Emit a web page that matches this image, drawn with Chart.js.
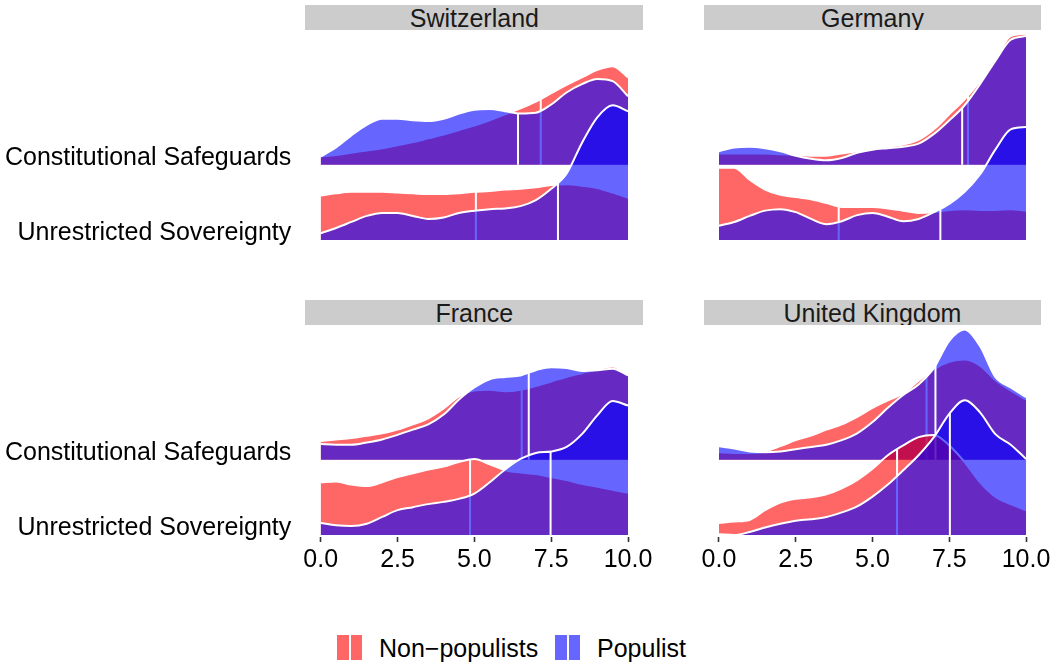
<!DOCTYPE html>
<html>
<head>
<meta charset="utf-8">
<script src="https://cdn.jsdelivr.net/npm/chart.js@4.4.1/dist/chart.umd.min.js"></script>
<style>
  body { margin: 0; background: #fff; font-family: 'Liberation Sans', Arial, sans-serif; }
  #wrap { position: relative; width: 1059px; height: 665px; overflow: hidden; }
  #wrap canvas { position: absolute; }
  .strip { position: absolute; height: 25px; line-height: 25px; padding-top: 1px; box-sizing: border-box;
           background: #cccccc; color: #1a1a1a; font-size: 25px; text-align: center; overflow: hidden; white-space: nowrap; }
  .key { position: absolute; top: 635px; width: 25px; height: 25px; }
  .key span { position: absolute; left: 11.5px; top: 0; width: 2px; height: 25px; background: #fff; }
  .keytext { position: absolute; top: 633px; font-size: 25px; line-height: 30px; color: #000; white-space: nowrap; }
</style>
</head>
<body>
<div id="wrap"></div>
<script>
const countries = ['Switzerland', 'Germany', 'France', 'United Kingdom'];
const ridgeLabels = ['Unrestricted Sovereignty', 'Constitutional Safeguards']; // ridge baselines y = 1 and y = 2
const groups = ['Non\u2212populists', 'Populist'];
const groupFill = ['rgba(255,0,0,0.6)', 'rgba(0,0,255,0.6)'];

const xGrid = [0, 0.5, 1, 1.5, 2, 2.5, 3, 3.5, 4, 4.5, 5, 5.5, 6, 6.5, 7, 7.5, 8, 8.5, 9, 9.5, 10];
const xTicks = [0, 2.5, 5, 7.5, 10];
const xTickLabels = ['0.0', '2.5', '5.0', '7.5', '10.0'];

// scaled density heights above the ridge baseline (1 = gap between ridges), read at xGrid
// Switzerland
const chCsNon = [0.11, 0.13, 0.16, 0.19, 0.22, 0.26, 0.30, 0.35, 0.40, 0.46, 0.52, 0.59, 0.67, 0.75, 0.84, 0.95, 1.06, 1.16, 1.26, 1.31, 1.16];
const chCsPop = [0.11, 0.23, 0.39, 0.53, 0.61, 0.61, 0.59, 0.58, 0.61, 0.68, 0.73, 0.74, 0.71, 0.68, 0.69, 0.80, 0.96, 1.07, 1.14, 1.11, 0.91];
const chUsNon = [0.59, 0.62, 0.64, 0.64, 0.64, 0.63, 0.62, 0.61, 0.61, 0.62, 0.64, 0.65, 0.67, 0.68, 0.70, 0.73, 0.74, 0.72, 0.69, 0.63, 0.56];
const chUsPop = [0.09, 0.16, 0.24, 0.32, 0.36, 0.36, 0.32, 0.28, 0.30, 0.36, 0.39, 0.41, 0.42, 0.45, 0.53, 0.68, 0.88, 1.29, 1.63, 1.79, 1.71];
const chMedCs = [7.16, 6.42];
const chMedUs = [5.05, 7.72];

// Germany
const deCsNon = [0.15, 0.15, 0.15, 0.15, 0.14, 0.13, 0.12, 0.12, 0.15, 0.18, 0.21, 0.24, 0.27, 0.33, 0.47, 0.67, 0.87, 1.11, 1.40, 1.71, 1.74];
const deCsPop = [0.18, 0.23, 0.24, 0.22, 0.18, 0.12, 0.08, 0.06, 0.09, 0.16, 0.20, 0.22, 0.24, 0.28, 0.41, 0.59, 0.79, 1.07, 1.38, 1.66, 1.71];
const deUsNon = [0.96, 0.96, 0.80, 0.67, 0.60, 0.57, 0.54, 0.49, 0.44, 0.44, 0.44, 0.42, 0.39, 0.36, 0.37, 0.40, 0.41, 0.40, 0.40, 0.41, 0.39];
const deUsPop = [0.19, 0.24, 0.32, 0.39, 0.41, 0.37, 0.28, 0.21, 0.25, 0.33, 0.36, 0.31, 0.25, 0.28, 0.37, 0.48, 0.64, 0.87, 1.20, 1.47, 1.50];
const deMedCs = [8.11, 7.92];
const deMedUs = [3.90, 7.21];

// France
const frCsNon = [0.25, 0.27, 0.29, 0.32, 0.35, 0.40, 0.47, 0.55, 0.68, 0.84, 0.92, 0.93, 0.91, 0.93, 0.98, 1.04, 1.10, 1.15, 1.20, 1.24, 1.12];
const frCsPop = [0.21, 0.20, 0.20, 0.23, 0.27, 0.33, 0.40, 0.47, 0.60, 0.80, 0.96, 1.07, 1.10, 1.12, 1.19, 1.23, 1.22, 1.18, 1.19, 1.21, 1.12];
const frUsNon = [0.70, 0.71, 0.67, 0.65, 0.70, 0.77, 0.82, 0.87, 0.91, 0.97, 1.01, 0.94, 0.86, 0.83, 0.81, 0.77, 0.73, 0.68, 0.64, 0.60, 0.56];
const frUsPop = [0.16, 0.13, 0.12, 0.15, 0.24, 0.33, 0.37, 0.41, 0.44, 0.48, 0.55, 0.70, 0.87, 1.01, 1.09, 1.11, 1.17, 1.34, 1.59, 1.78, 1.72];
const frMedCs = [6.54, 6.77];
const frMedUs = [4.86, 7.48];

// United Kingdom
const ukCsNon = [0.10, 0.09, 0.09, 0.11, 0.18, 0.26, 0.32, 0.40, 0.47, 0.57, 0.69, 0.79, 0.88, 1.05, 1.20, 1.30, 1.33, 1.25, 1.06, 0.92, 0.80];
const ukCsPop = [0.18, 0.15, 0.11, 0.10, 0.11, 0.14, 0.17, 0.20, 0.26, 0.35, 0.50, 0.69, 0.86, 1.00, 1.22, 1.58, 1.73, 1.51, 1.10, 0.96, 0.83];
const ukUsNon = [0.16, 0.18, 0.20, 0.33, 0.43, 0.48, 0.50, 0.54, 0.62, 0.73, 0.88, 1.06, 1.19, 1.30, 1.33, 1.19, 0.97, 0.70, 0.51, 0.41, 0.33];
const ukUsPop = [0.01, 0.00, 0.04, 0.10, 0.15, 0.19, 0.21, 0.24, 0.30, 0.38, 0.51, 0.67, 0.86, 1.06, 1.30, 1.61, 1.79, 1.63, 1.34, 1.20, 1.01];
const ukMedCs = [6.76, 7.05];
const ukMedUs = [5.80, 7.52];

const ridgeData = {
  'Switzerland':    { cs: [chCsNon, chCsPop], us: [chUsNon, chUsPop], medCs: chMedCs, medUs: chMedUs },
  'Germany':        { cs: [deCsNon, deCsPop], us: [deUsNon, deUsPop], medCs: deMedCs, medUs: deMedUs },
  'France':         { cs: [frCsNon, frCsPop], us: [frUsNon, frUsPop], medCs: frMedCs, medUs: frMedUs },
  'United Kingdom': { cs: [ukCsNon, ukCsPop], us: [ukUsNon, ukUsPop], medCs: ukMedCs, medUs: ukMedUs }
};

// canvas placement for the four facets
const panels = [
  { left: 0,   top: 30,  w: 664, h: 225, padL: 0,    padR: 20.6, padB: 13.5, labels: true,  axis: false, strip: [305.3, 5, 338.1] },
  { left: 690, top: 30,  w: 369, h: 225, padL: 13.6, padR: 17.6, padB: 13.5, labels: false, axis: false, strip: [703.6, 5, 337.8] },
  { left: 0,   top: 325, w: 664, h: 260, padL: 0,    padR: 20.6, padB: 0,    labels: true,  axis: true,  strip: [305.3, 300, 338.1] },
  { left: 690, top: 325, w: 369, h: 260, padL: 13.6, padR: 17.6, padB: 0,    labels: false, axis: true,  strip: [703.6, 300, 337.8] }
];

Chart.defaults.font.family = "'Liberation Sans', Arial, sans-serif";
Chart.defaults.font.size = 25;
Chart.defaults.color = '#000';

function heightAt(h, x) {
  for (let i = 0; i < xGrid.length - 1; i++) {
    if (x >= xGrid[i] && x <= xGrid[i + 1]) {
      const t = (x - xGrid[i]) / (xGrid[i + 1] - xGrid[i]);
      return h[i] + t * (h[i + 1] - h[i]);
    }
  }
  return 0;
}

function buildDatasets(country) {
  const d = ridgeData[country];
  const ridges = [
    { base: 2, dens: d.cs, med: d.medCs },
    { base: 1, dens: d.us, med: d.medUs }
  ];
  const list = [];
  ridges.forEach(r => {
    groups.forEach((g, gi) => {
      const h = r.dens[gi];
      list.push({
        label: g,
        data: xGrid.map((x, i) => ({ x: x, y: r.base + h[i] })),
        fill: { value: r.base },
        backgroundColor: groupFill[gi],
        borderColor: '#ffffff',
        borderWidth: 2,
        pointRadius: 0,
        cubicInterpolationMode: 'monotone'
      });
      const m = r.med[gi];
      list.push({
        label: g + ' median',
        data: [{ x: m, y: r.base }, { x: m, y: r.base + heightAt(h, m) }],
        fill: false,
        borderColor: '#ffffff',
        borderWidth: 2,
        pointRadius: 0
      });
    });
  });
  // first pushed is drawn first
  list.forEach((ds, i) => { ds.order = list.length - i; });
  return list;
}

const wrap = document.getElementById('wrap');

countries.forEach((country, ci) => {
  const p = panels[ci];

  const strip = document.createElement('div');
  strip.className = 'strip';
  strip.style.left = p.strip[0] + 'px';
  strip.style.top = p.strip[1] + 'px';
  strip.style.width = p.strip[2] + 'px';
  strip.textContent = country;
  wrap.appendChild(strip);

  const cv = document.createElement('canvas');
  cv.width = p.w;
  cv.height = p.h;
  cv.style.left = p.left + 'px';
  cv.style.top = p.top + 'px';
  wrap.appendChild(cv);

  new Chart(cv, {
    type: 'line',
    data: { datasets: buildDatasets(country) },
    options: {
      responsive: false,
      animation: false,
      events: [],
      layout: { padding: { left: p.padL, right: p.padR, top: 0, bottom: p.padB } },
      plugins: { legend: { display: false }, tooltip: { enabled: false } },
      scales: {
        x: {
          type: 'linear',
          min: -0.5,
          max: 10.5,
          display: p.axis,
          border: { display: false },
          grid: { drawOnChartArea: false, drawTicks: true, tickLength: 5.5, tickColor: '#333333', tickWidth: 1.6 },
          afterBuildTicks: axis => { axis.ticks = xTicks.map(v => ({ value: v })); },
          afterFit: axis => { axis.height = p.axis ? 48.5 : 0; axis.paddingLeft = 0; axis.paddingRight = 0; },
          ticks: {
            autoSkip: false,
            maxRotation: 0,
            padding: 3,
            color: '#000',
            callback: (v, i) => xTickLabels[i]
          }
        },
        y: {
          type: 'linear',
          min: 0.98,
          max: 3.79,
          display: p.labels,
          border: { display: false },
          grid: { display: false, drawTicks: false },
          afterBuildTicks: axis => { axis.ticks = [{ value: 1 }, { value: 2 }]; },
          afterFit: axis => { axis.width = p.labels ? 305.3 : 0; axis.paddingTop = 0; axis.paddingBottom = 0; },
          ticks: {
            padding: 14,
            labelOffset: -6.5,
            color: '#000',
            callback: v => ridgeLabels[v - 1]
          }
        }
      }
    }
  });
});

// legend
const legendItems = [
  { keyLeft: 337, textLeft: 379 },
  { keyLeft: 555, textLeft: 597 }
];
groups.forEach((g, gi) => {
  const key = document.createElement('div');
  key.className = 'key';
  key.style.left = legendItems[gi].keyLeft + 'px';
  key.style.background = groupFill[gi];
  key.appendChild(document.createElement('span'));
  wrap.appendChild(key);
  const t = document.createElement('div');
  t.className = 'keytext';
  t.style.left = legendItems[gi].textLeft + 'px';
  t.textContent = g;
  wrap.appendChild(t);
});
</script>
</body>
</html>
